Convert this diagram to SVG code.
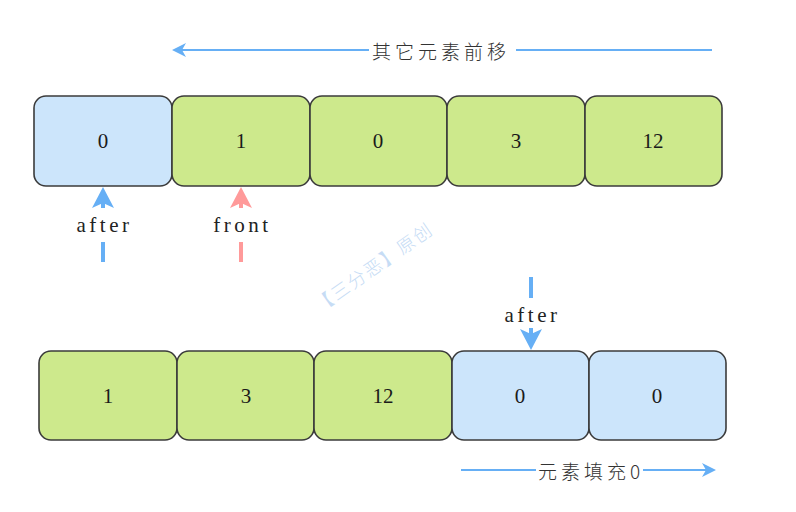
<svg xmlns="http://www.w3.org/2000/svg" width="796" height="512" viewBox="0 0 796 512">
<style>
.box{stroke:#3b3b3b;stroke-width:1.6}
.b{fill:#cce5fb}
.g{fill:#cde98c}
.num{font-family:"Liberation Serif",serif;font-size:21px;fill:#1a1a1a;text-anchor:middle;dominant-baseline:central}
.lbl{font-family:"Liberation Serif",serif;font-size:21px;fill:#222;text-anchor:middle;dominant-baseline:central;letter-spacing:3.5px}
.cjk{font-family:"Noto Sans CJK SC",sans-serif;font-size:19px;font-weight:300;fill:#333;dominant-baseline:central;letter-spacing:4px}
.bl{stroke:#66aff5;fill:none}
.pk{stroke:#ff9a9a;fill:none}
</style>
<rect width="796" height="512" fill="#fff"/>
<text x="373" y="266" transform="rotate(-35 373 266)" font-family="Noto Sans CJK SC,sans-serif" font-size="18" font-weight="300" fill="#c6dcf5" text-anchor="middle" dominant-baseline="central" letter-spacing="2">【三分恶】原创</text>
<g id="top-row">
<g id="t0"><rect class="box b" x="34" y="96" width="138" height="90" rx="12"/><text class="num" x="103" y="141">0</text></g>
<g id="t1"><rect class="box g" x="172" y="96" width="138" height="90" rx="12"/><text class="num" x="241" y="141">1</text></g>
<g id="t2"><rect class="box g" x="310" y="96" width="137" height="90" rx="12"/><text class="num" x="378" y="141">0</text></g>
<g id="t3"><rect class="box g" x="447" y="96" width="138" height="90" rx="12"/><text class="num" x="516" y="141">3</text></g>
<g id="t4"><rect class="box g" x="585" y="96" width="137" height="90" rx="12"/><text class="num" x="653" y="141">12</text></g>
</g>
<g id="bottom-row">
<g id="b0"><rect class="box g" x="39" y="351" width="138" height="89" rx="12"/><text class="num" x="108" y="396">1</text></g>
<g id="b1"><rect class="box g" x="177" y="351" width="137" height="89" rx="12"/><text class="num" x="246" y="396">3</text></g>
<g id="b2"><rect class="box g" x="314" y="351" width="138" height="89" rx="12"/><text class="num" x="383" y="396">12</text></g>
<g id="b3"><rect class="box b" x="452" y="351" width="137" height="89" rx="12"/><text class="num" x="520" y="396">0</text></g>
<g id="b4"><rect class="box b" x="589" y="351" width="137" height="89" rx="12"/><text class="num" x="657" y="396">0</text></g>
</g>
<g id="connectors">
<line class="bl" x1="180" y1="50" x2="369" y2="50" stroke-width="2"/>
<line class="bl" x1="516" y1="50" x2="712" y2="50" stroke-width="2"/>
<polygon points="172,50 186,43 182,50 186,57" fill="#66aff5"/>
<text class="cjk" x="372" y="50">其它元素前移</text>
<line class="bl" x1="461" y1="470" x2="536" y2="470" stroke-width="2"/>
<line class="bl" x1="643" y1="470" x2="708" y2="470" stroke-width="2"/>
<polygon points="716,470 702,463 706,470 702,477" fill="#66aff5"/>
<text class="cjk" x="538" y="470" letter-spacing="3">元素填充0</text>
<line class="bl" x1="103" y1="242" x2="103" y2="262" stroke-width="4"/>
<line class="bl" x1="103" y1="200" x2="103" y2="208" stroke-width="4"/>
<polygon points="103,187 92,208 103,203 114,208" fill="#66aff5"/>
<text class="lbl" x="104.5" y="225">after</text>
<line class="pk" x1="241" y1="242" x2="241" y2="262" stroke-width="4"/>
<line class="pk" x1="241" y1="200" x2="241" y2="208" stroke-width="4"/>
<polygon points="241,187 230,208 241,203 252,208" fill="#ff9a9a"/>
<text class="lbl" x="242.5" y="225">front</text>
<line class="bl" x1="531" y1="277" x2="531" y2="298" stroke-width="4"/>
<line class="bl" x1="531" y1="328" x2="531" y2="338" stroke-width="4"/>
<polygon points="531,350 520,329 531,334 542,329" fill="#66aff5"/>
<text class="lbl" x="532.5" y="315">after</text>
</g>
</svg>
